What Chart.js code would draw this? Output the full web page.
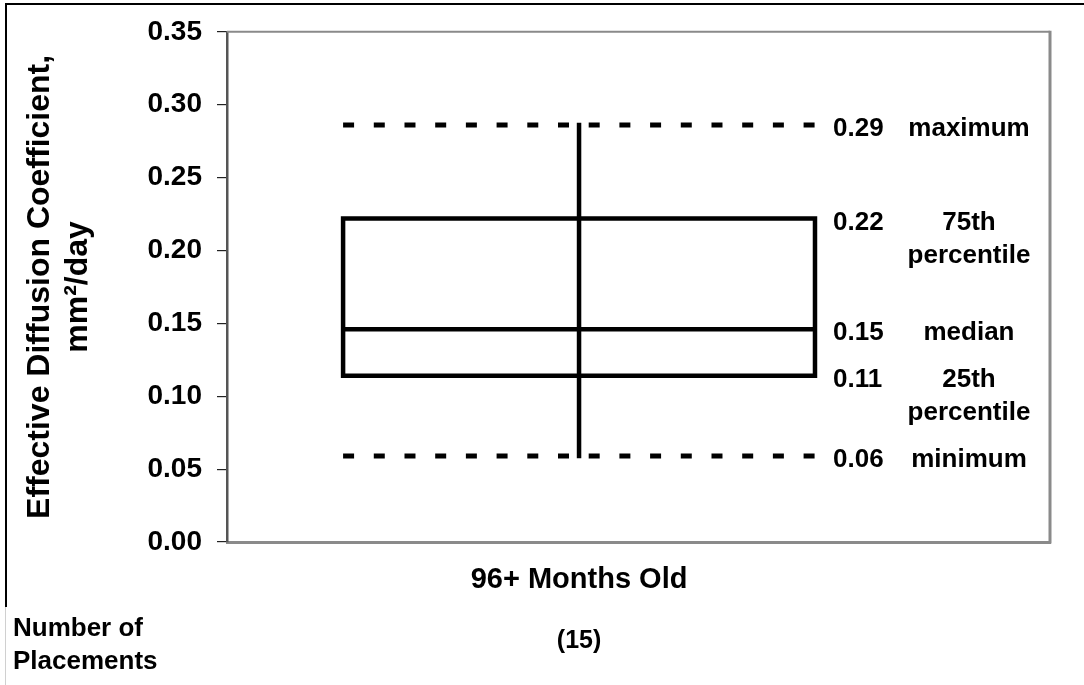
<!DOCTYPE html>
<html>
<head>
<meta charset="utf-8">
<script src="https://cdn.jsdelivr.net/npm/chart.js@4.4.1/dist/chart.umd.min.js"></script>
<style>
  html, body { margin: 0; padding: 0; background: #ffffff; }
  canvas { display: block; }
</style>
</head>
<body>
<canvas id="chart" width="1084" height="685" style="width:1084px;height:685px"></canvas>
<script>
// Box-plot summary of effective diffusion coefficients
const categories = ['96+ Months Old'];
const placements = [15];
const maximum = [0.286];
const q3 = [0.222];
const median = [0.146];
const q1 = [0.114];
const minimum = [0.059];
const statNames = [['maximum'], ['75th', 'percentile'], ['median'], ['25th', 'percentile'], ['minimum']];
const yTicks = [0, 0.05, 0.10, 0.15, 0.20, 0.25, 0.30, 0.35];
const yTitle = ['Effective Diffusion Coefficient,', 'mm\u00B2/day'];
const rowTitle = ['Number of', 'Placements'];

const FONT = '"Liberation Sans", Arial, Helvetica, sans-serif';
const HALF = 0.5; // half width of the box in x units

const i = 0;
const line = (pts, extra) => Object.assign({
  data: pts, showLine: true, fill: false, tension: 0,
  pointRadius: 0, pointHoverRadius: 0,
  borderColor: '#000', borderWidth: 4.5,
  borderCapStyle: 'butt', borderJoinStyle: 'miter'
}, extra || {});

const datasets = [
  // dashed maximum / minimum lines
  line([{x: i - HALF, y: maximum[i]}, {x: i + HALF, y: maximum[i]}], {borderWidth: 5, borderDash: [11, 19.7]}),
  line([{x: i - HALF, y: minimum[i]}, {x: i + HALF, y: minimum[i]}], {borderWidth: 5, borderDash: [11, 19.7]}),
  // vertical whisker from minimum to maximum
  line([{x: i, y: minimum[i]}, {x: i, y: maximum[i]}], {borderWidth: 4.5, borderCapStyle: 'square'}),
  // interquartile box
  line([
    {x: i - HALF, y: q1[i]}, {x: i - HALF, y: q3[i]},
    {x: i + HALF, y: q3[i]}, {x: i + HALF, y: q1[i]},
    {x: i - HALF, y: q1[i]}
  ], {borderCapStyle: 'square'}),
  // median
  line([{x: i - HALF, y: median[i]}, {x: i + HALF, y: median[i]}])
];

const framePlugin = {
  id: 'frame',
  beforeDraw(chart) {
    const ctx = chart.ctx;
    ctx.save();
    ctx.fillStyle = '#fff';
    ctx.fillRect(0, 0, chart.width, chart.height);
    ctx.strokeStyle = '#000';
    ctx.lineWidth = 2;
    ctx.beginPath();
    ctx.moveTo(5, 4); ctx.lineTo(1084, 4);
    ctx.moveTo(6, 4); ctx.lineTo(6, 607);
    ctx.stroke();
    ctx.strokeStyle = '#d0d0d0';
    ctx.lineWidth = 1;
    ctx.beginPath();
    ctx.moveTo(5.5, 607); ctx.lineTo(5.5, 685);
    ctx.stroke();
    ctx.restore();
  },
  afterDraw(chart) {
    const {ctx, chartArea: a} = chart;
    ctx.save();
    ctx.strokeStyle = '#8a8a8a';
    ctx.lineWidth = 2;
    ctx.beginPath();
    ctx.moveTo(a.left, a.top); ctx.lineTo(a.right, a.top);
    ctx.stroke();
    ctx.lineWidth = 3;
    ctx.beginPath();
    ctx.moveTo(a.right, a.top - 1); ctx.lineTo(a.right, a.bottom + 1.5);
    ctx.stroke();
    ctx.restore();
  }
};

const labelPlugin = {
  id: 'statLabels',
  afterDatasetsDraw(chart) {
    const {ctx, scales: {x, y}} = chart;
    const vals = [maximum[i], q3[i], median[i], q1[i], minimum[i]];
    const right = x.getPixelForValue(i + HALF);
    ctx.save();
    ctx.fillStyle = '#000';
    ctx.font = 'bold 26px ' + FONT;
    ctx.textBaseline = 'middle';
    vals.forEach((v, k) => {
      const py = y.getPixelForValue(v) + 4;
      ctx.textAlign = 'left';
      ctx.fillText(v.toFixed(2), right + 18, py);
      ctx.textAlign = 'center';
      statNames[k].forEach((t, j) => ctx.fillText(t, right + 154, py + j * 33));
    });
    // placement count under the category
    ctx.font = 'bold 25px ' + FONT;
    ctx.textAlign = 'center';
    ctx.fillText('(' + placements[i] + ')', x.getPixelForValue(i), 641);
    // row caption
    ctx.font = 'bold 26px ' + FONT;
    ctx.textAlign = 'left';
    ctx.textBaseline = 'alphabetic';
    rowTitle.forEach((t, j) => ctx.fillText(t, 13, 636 + j * 33));
    ctx.restore();
  }
};

new Chart(document.getElementById('chart'), {
  type: 'scatter',
  data: { datasets },
  plugins: [framePlugin, labelPlugin],
  options: {
    responsive: false,
    animation: false,
    devicePixelRatio: 1,
    layout: { padding: { left: 0, top: 30, right: 34, bottom: 0 } },
    plugins: { legend: { display: false }, tooltip: { enabled: false } },
    scales: {
      x: {
        type: 'linear',
        min: -0.746,
        max: 0.998,
        afterBuildTicks: s => { s.ticks = categories.map((c, k) => ({ value: k })); },
        ticks: {
          callback: v => categories[v] ?? '',
          font: { family: FONT, size: 29, weight: 'bold' },
          color: '#000',
          padding: 21,
          maxRotation: 0,
          autoSkip: false
        },
        grid: { display: false, drawTicks: false },
        border: { display: true, color: '#8a8a8a', width: 3 },
        afterFit: s => { s.height = 143; }
      },
      y: {
        min: 0,
        max: 0.35,
        afterBuildTicks: s => { s.ticks = yTicks.map(v => ({ value: v })); },
        ticks: {
          callback: v => Number(v).toFixed(2),
          font: { family: FONT, size: 28, weight: 'bold' },
          color: '#000',
          padding: 15
        },
        grid: { drawOnChartArea: false, drawTicks: true, tickLength: 10, color: '#222', lineWidth: 1.2 },
        border: { display: true, color: '#555', width: 2.5 },
        title: {
          display: true,
          text: yTitle,
          color: '#000',
          font: { family: FONT, size: 32, weight: 'bold', lineHeight: 1.19 },
          padding: { top: 21, bottom: 0 }
        },
        afterFit: s => { s.width = 227; }
      }
    }
  }
});
</script>
</body>
</html>
